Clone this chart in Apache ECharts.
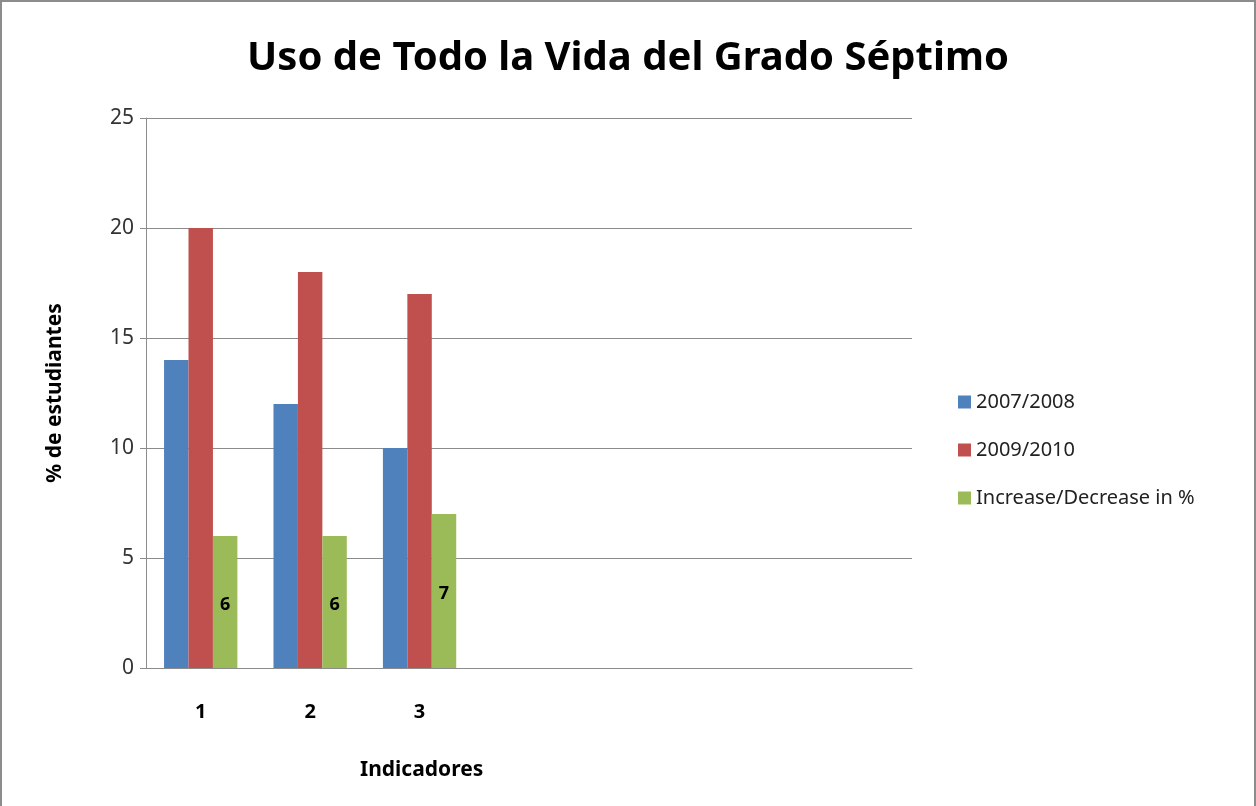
<!DOCTYPE html>
<html>
<head>
<meta charset="utf-8">
<script src="https://cdn.jsdelivr.net/npm/echarts@6/dist/echarts.min.js"></script>
<style>
  html, body { margin: 0; padding: 0; background: #fff; }
  #chart {
    width: 1256px; height: 806px; box-sizing: border-box;
    border-left: 2px solid #8c8c8c; border-right: 2px solid #8c8c8c; border-top: 2px solid #8c8c8c;
  }
</style>
</head>
<body>
<div id="chart"></div>
<script>
// categorías del eje X (las últimas sin datos)
const categories = ['1', '2', '3', '', '', '', '']
const serie2007 = [14, 12, 10, null, null, null, null]
const serie2009 = [20, 18, 17, null, null, null, null]
const cambio = [6, 6, 7, null, null, null, null]
const seriesNames = ['2007/2008', '2009/2010', 'Increase/Decrease in %']

const font = 'Noto Sans'
const chart = echarts.init(document.getElementById('chart'))

chart.setOption({
  animation: false,
  textStyle: { fontFamily: font },
  title: [
    {
      text: 'Uso de Todo la Vida del Grado Séptimo',
      left: 'center',
      top: 32,
      textStyle: { fontFamily: font, fontSize: 40, fontWeight: 'bold', color: '#000' }
    },
    {
      text: 'Indicadores',
      left: 353,
      top: 753,
      textStyle: { fontFamily: font, fontSize: 21, fontWeight: 'bold', color: '#000' }
    }
  ],
  legend: {
    orient: 'vertical',
    left: 951,
    top: 385,
    itemWidth: 13,
    itemHeight: 13,
    itemGap: 28,
    icon: 'rect',
    textStyle: { fontFamily: font, fontSize: 20, color: '#222' },
    data: seriesNames
  },
  grid: { left: 144, right: 342, top: 116, bottom: 138 },
  xAxis: {
    type: 'category',
    data: categories,
    axisLine: { lineStyle: { color: '#8c8c8c', width: 1 } },
    axisTick: { show: false },
    axisLabel: { margin: 34, fontSize: 20, fontWeight: 'bold', color: '#000', fontFamily: font }
  },
  yAxis: {
    type: 'value',
    min: 0,
    max: 25,
    interval: 5,
    name: '% de estudiantes',
    nameLocation: 'middle',
    nameGap: 80,
    nameTextStyle: { fontFamily: font, fontSize: 21, fontWeight: 'bold', color: '#000' },
    axisLine: { show: true, lineStyle: { color: '#8c8c8c', width: 1 } },
    axisTick: { show: true, length: 6, lineStyle: { color: '#8c8c8c' } },
    axisLabel: { margin: 12, fontSize: 21, color: '#333', fontFamily: font },
    splitLine: { lineStyle: { color: '#8c8c8c', width: 1 } }
  },
  series: [
    {
      name: seriesNames[0], type: 'bar', data: serie2007,
      barGap: '0%', barCategoryGap: '33%',
      itemStyle: { color: '#4F81BD' }
    },
    {
      name: seriesNames[1], type: 'bar', data: serie2009,
      itemStyle: { color: '#C0504D' }
    },
    {
      name: seriesNames[2], type: 'bar', data: cambio,
      itemStyle: { color: '#9BBB59' },
      label: {
        show: true, position: 'inside', offset: [0, 3], fontSize: 18, fontWeight: 'bold',
        color: '#000', fontFamily: font
      }
    }
  ]
})
</script>
</body>
</html>
